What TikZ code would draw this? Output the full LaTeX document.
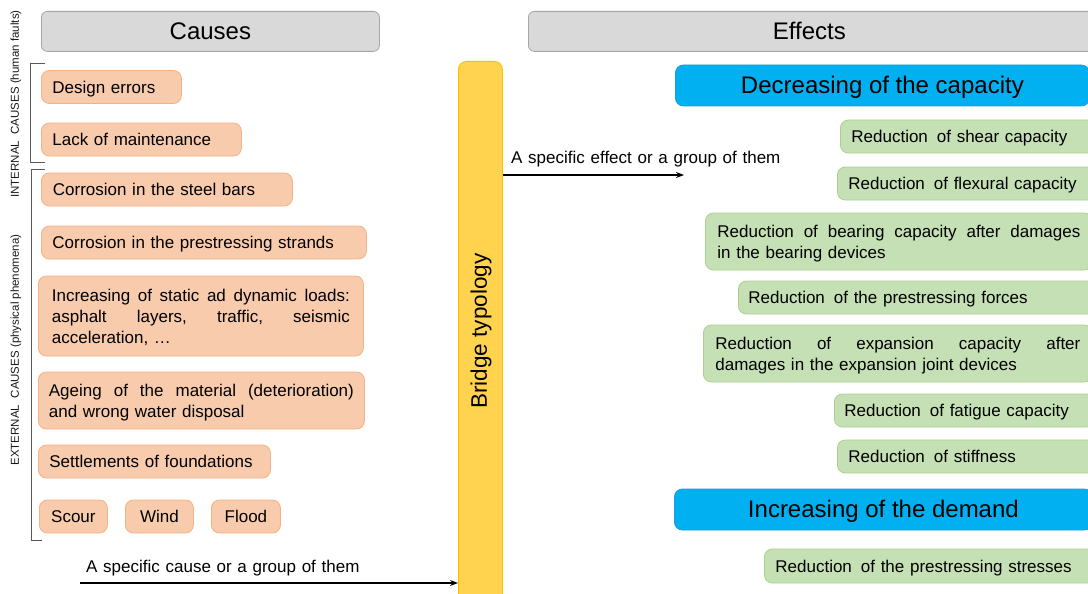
\documentclass[tikz,border=0pt]{standalone}
\usepackage{fontspec}
\setmainfont{Liberation Sans}
\usetikzlibrary{arrows.meta}
\definecolor{hdrfill}{HTML}{D9D9D9}
\definecolor{hdrdraw}{HTML}{A6A6A6}
\definecolor{orfill}{HTML}{F8CBAD}
\definecolor{ordraw}{HTML}{F4B183}
\definecolor{grfill}{HTML}{C5E0B4}
\definecolor{grdraw}{HTML}{A9D18E}
\definecolor{blfill}{HTML}{00B0F0}
\definecolor{bldraw}{HTML}{1F9ED6}
\definecolor{yefill}{HTML}{FFD34E}
\definecolor{yedraw}{HTML}{FFC000}
\definecolor{brk}{HTML}{595959}
\newcommand\rd{Reduction\hspace{9pt}}
\newcommand\jline[2]{\hbox to #1pt{#2}}
\DeclareRobustCommand\txtfont{\fontsize{17}{21}\selectfont\spaceskip=5.7pt plus 3pt minus 1pt\relax}
\tikzset{
  txt/.style={font=\txtfont},
  base/.style={txt, inner ysep=0pt, text=black, line width=0.8pt},
  one/.style={text height=12pt, text depth=0pt},
  two/.style={text height=12pt, text depth=21pt},
  three/.style={text height=12pt, text depth=42pt},
  hdr/.style={base, fill=hdrfill, draw=hdrdraw, rounded corners=6pt, font=\fontsize{24}{28}\selectfont, minimum height=40pt, text height=16.6pt, text depth=0pt},
  cbox/.style={base, fill=orfill, draw=ordraw, rounded corners=8pt, align=left, inner xsep=11pt, anchor=west},
  ebox/.style={base, fill=grfill, draw=grdraw, rounded corners=8pt, align=left, inner xsep=11pt, anchor=west},
  bbox/.style={base, fill=blfill, draw=bldraw, rounded corners=8pt, font=\fontsize{24}{28}\selectfont, minimum height=41pt, anchor=west, text height=16.6pt, text depth=0pt},
  side/.style={font=\fontsize{11.5}{13}\selectfont, text=black!90, rotate=90, inner sep=0pt},
  lbl/.style={txt, inner sep=0pt, anchor=base west},
  brack/.style={draw=brk, line width=0.9pt},
  arr/.style={-{Stealth[length=8pt,width=6pt]}, line width=1.5pt}
}
\begin{document}
\begin{tikzpicture}[x=1pt,y=-1pt]
\clip (0,0) rectangle (1088,594);
\fill[white] (0,0) rectangle (1088,594);
% headers
\node[hdr, minimum width=338pt, anchor=north west] (causes) at (41,11) {Causes};
\node[hdr, minimum width=570pt, anchor=north west] (effects) at (528,11) {\hspace*{-8pt}Effects};
% brackets
\draw[brack] (45,63) -- (30,63) -- (30,162) -- (45,162);
\draw[brack] (45,169) -- (31,169) -- (31,540) -- (42,540);
\node[side] (intl) at (16,104) {INTERNAL\ \ CAUSES (human faults)};
\node[side] (extl) at (16,350) {EXTERNAL\ \ CAUSES (physical phenomena)};
% causes
\node[cbox, one, text width=118pt, minimum height=33pt] (c1) at (41,87) {Design errors};
\node[cbox, one, text width=178pt, minimum height=33pt] (c2) at (41,139.5) {Lack of maintenance};
\node[cbox, one, text width=228pt, minimum height=33pt, inner xsep=11.5pt] (c3) at (41,189.5) {Corrosion in the steel bars};
\node[cbox, one, text width=303pt, minimum height=33pt] (c4) at (41,242.5) {Corrosion in the prestressing strands};
\node[cbox, three, text width=298pt, minimum height=80pt, inner xsep=13.5pt] (c5) at (38,316)
  {\jline{298}{Increasing\hfill of\hfill static\hfill ad\hfill dynamic\hfill loads:}
   \jline{298}{asphalt\hfill layers,\hfill traffic,\hfill seismic}
   acceleration, \dots};
\node[cbox, two, text width=305pt, minimum height=57pt, inner xsep=10.5pt] (c6) at (38,400.5)
  {\jline{305}{Ageing\hfill of\hfill the\hfill material\hfill (deterioration)}
   and wrong water disposal};
\node[cbox, one, text width=210pt, minimum height=33pt] (c7) at (38,461.5) {Settlements of foundations};
\node[cbox, one, align=center, minimum width=68pt, minimum height=33pt, inner xsep=0pt] (c8) at (39,516.5) {Scour};
\node[cbox, one, align=center, minimum width=68pt, minimum height=33pt, inner xsep=0pt] (c9) at (125,516.5) {Wind};
\node[cbox, one, align=center, minimum width=69pt, minimum height=33pt, inner xsep=0pt] (c10) at (211,516.5) {Flood};
% bridge typology
\node[fill=yefill, draw=yedraw, line width=0.8pt, rounded corners=8pt, minimum width=44pt, minimum height=545pt, anchor=north west, inner sep=0pt] (bt) at (458,61) {};
\node[rotate=90, font=\fontsize{22.5}{25}\selectfont, inner sep=0pt] (btl) at (481,331) {Bridge typology};
% arrows
\coordinate (cs) at (80,583);
\draw[arr] (cs) -- (cs -| bt.west);
\node[lbl] (csl) at (86,572) {A specific cause or a group of them};
\coordinate (ef) at (684,175);
\draw[arr] (ef -| bt.east) -- (ef);
\node[lbl] (efl) at (511,163.5) {A specific effect or a group of them};
% effects
\node[bbox, minimum width=414pt] (d1) at (675,85.5) {Decreasing of the capacity};
\node[ebox, one, text width=240pt, minimum height=33pt] (e1) at (840,136.5) {\rd of shear capacity};
\node[ebox, one, text width=240pt, minimum height=33pt] (e2) at (837,183.5) {\rd of flexural capacity};
\node[ebox, two, text width=363pt, minimum height=57pt, inner xsep=12pt] (e3) at (705,241.5)
  {\jline{363}{Reduction\hfill of\hfill bearing\hfill capacity\hfill after\hfill damages}
   in the bearing devices};
\node[ebox, one, text width=340pt, minimum height=33pt, inner xsep=10pt] (e4) at (738,297.5) {\rd of the prestressing forces};
\node[ebox, two, text width=365pt, minimum height=57pt, inner xsep=12pt] (e5) at (703,353.5)
  {\jline{365}{Reduction\hfill of\hfill expansion\hfill capacity\hfill after}
   damages in the expansion joint devices};
\node[ebox, one, text width=240pt, minimum height=33pt, inner xsep=10pt] (e6) at (834,410.5) {\rd of fatigue capacity};
\node[ebox, one, text width=240pt, minimum height=33pt] (e7) at (837,456.5) {\rd of stiffness};
\node[bbox, minimum width=418pt] (d2) at (674,509.5) {Increasing of the demand};
\node[ebox, one, text width=320pt, minimum height=34pt] (e8) at (764,566) {\rd of the prestressing stresses};
\end{tikzpicture}
\end{document}
